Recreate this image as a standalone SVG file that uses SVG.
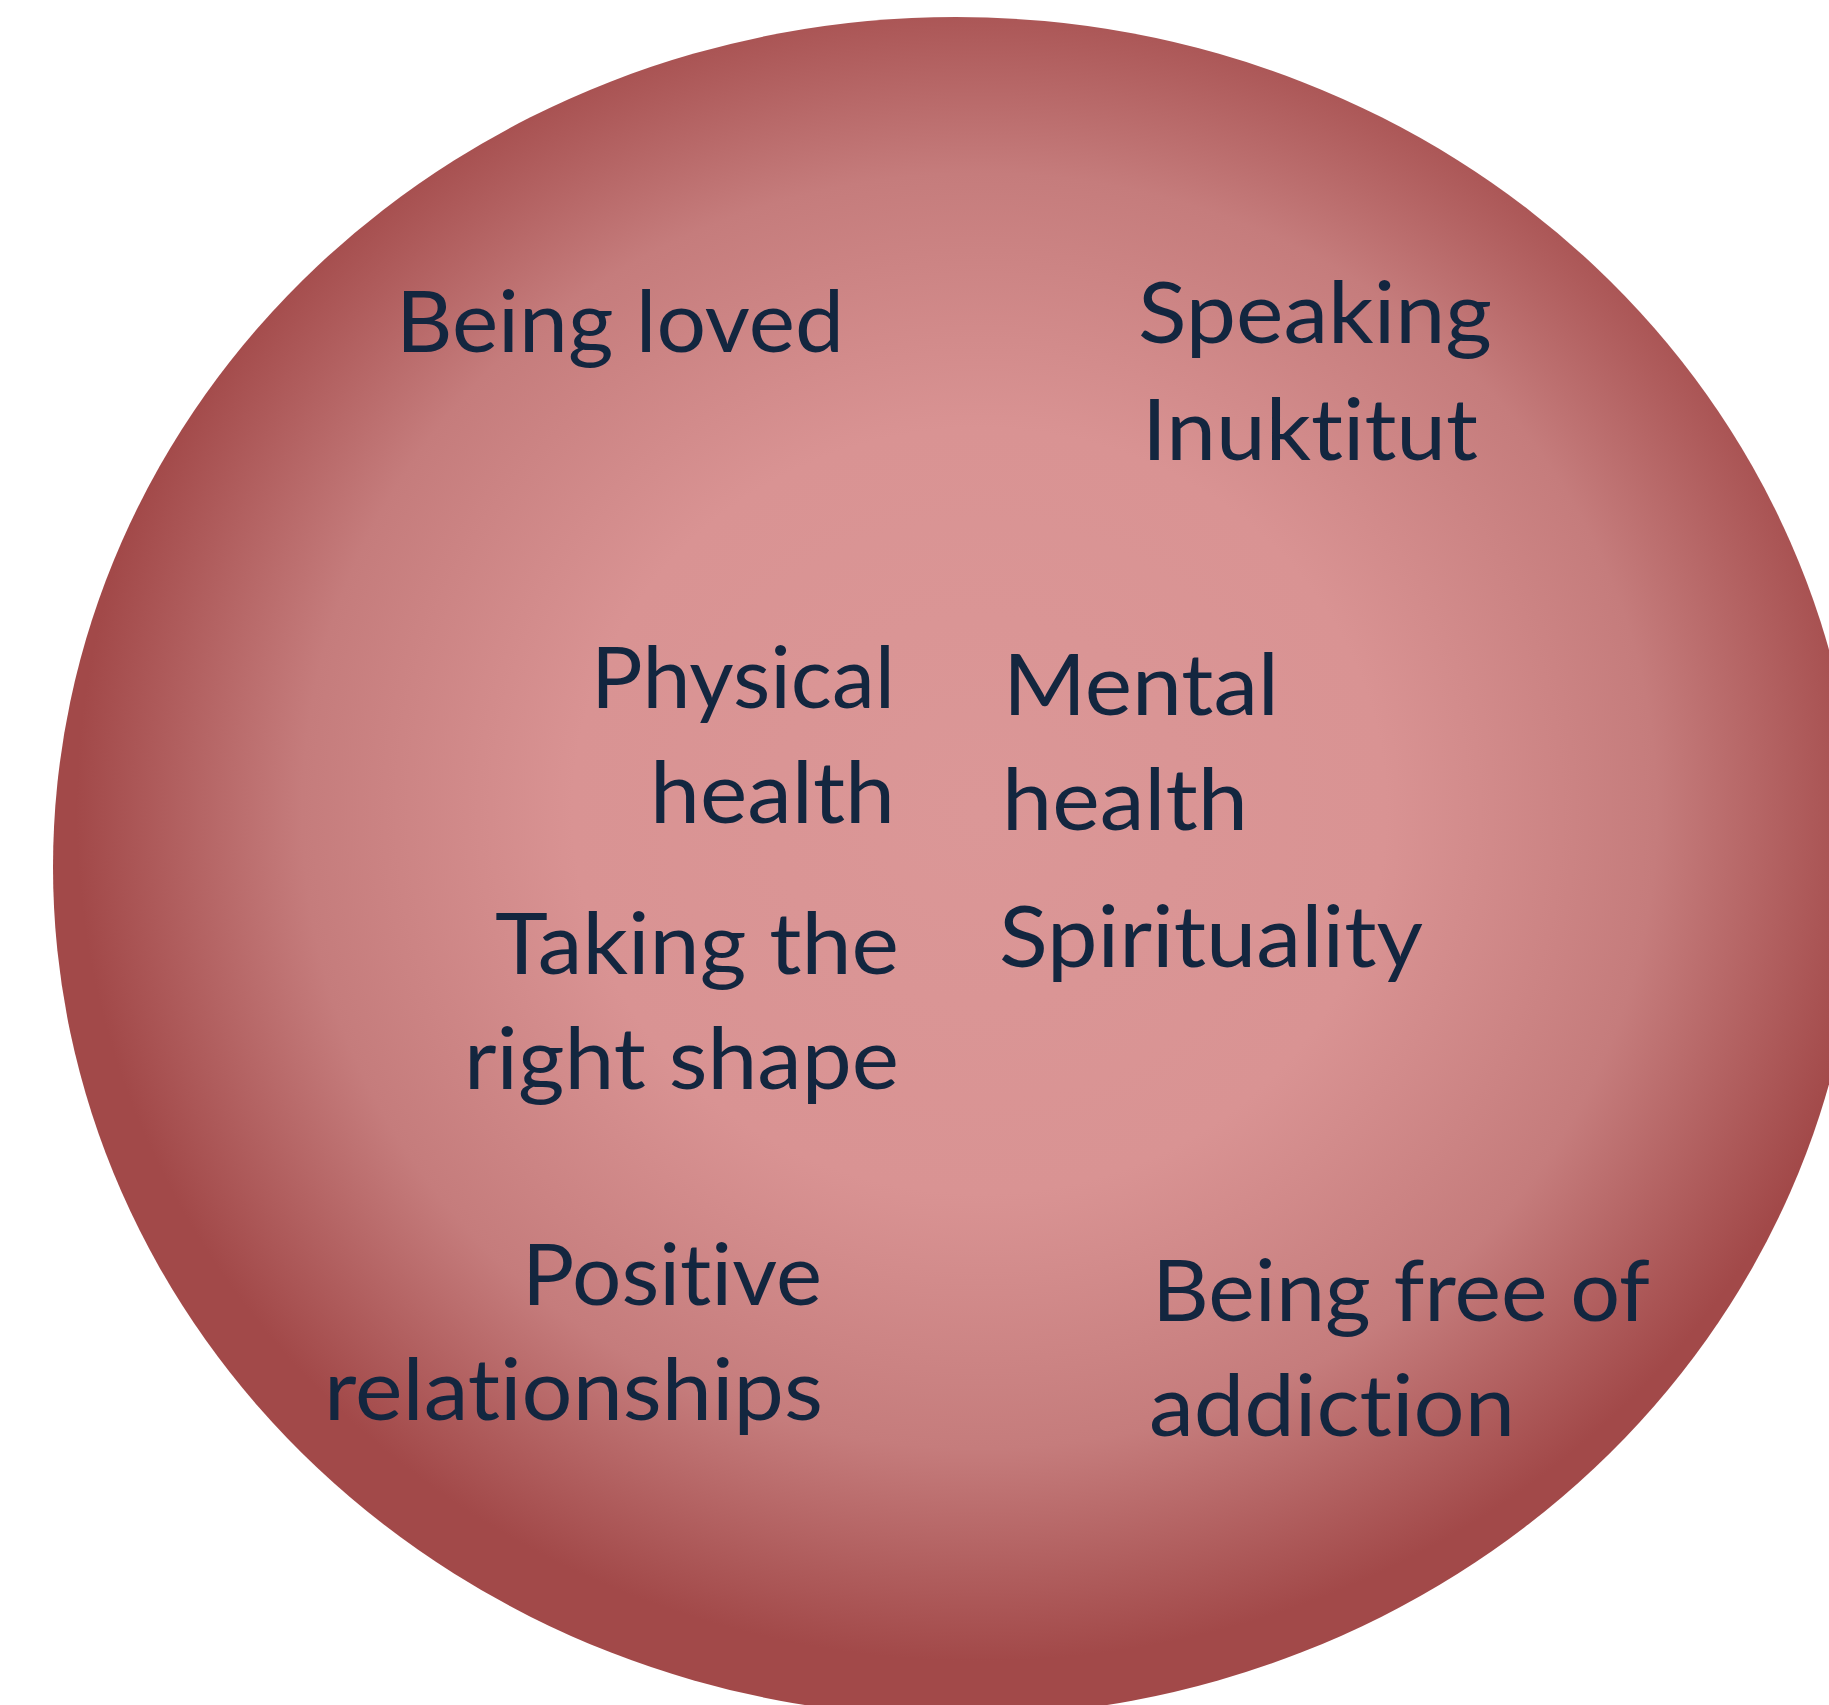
<svg xmlns="http://www.w3.org/2000/svg" width="1829" height="1705" viewBox="0 0 1829 1705">
  <defs>
    <radialGradient id="bg" cx="0.513" cy="0.467" r="0.5" gradientUnits="objectBoundingBox">
      <stop offset="0" stop-color="#DB9797"/>
      <stop offset="0.45" stop-color="#D99393"/>
      <stop offset="0.75" stop-color="#C57C7C"/>
      <stop offset="1" stop-color="#A24949"/>
    </radialGradient>
  </defs>
  <style>
    .lbl { font-family: Lato, "Open Sans", "Liberation Sans", sans-serif; font-size: 86px; fill: #13263F; font-variant-ligatures: none; font-feature-settings: "liga" 0, "clig" 0; }
  </style>
  <rect width="1829" height="1705" fill="#FFFFFF"/>
  <g id="circle">
    <ellipse cx="956" cy="867" rx="903" ry="850" fill="url(#bg)"/>
  </g>
  <g id="connectors"></g>
  <g id="node-being-loved">
    <text class="lbl" x="396" y="352" textLength="448" lengthAdjust="spacingAndGlyphs">Being loved</text>
  </g>
  <g id="node-speaking-inuktitut">
    <text class="lbl" x="1138" y="343" textLength="354" lengthAdjust="spacingAndGlyphs">Speaking</text>
    <text class="lbl" x="1142" y="460" textLength="336" lengthAdjust="spacingAndGlyphs">Inuktitut</text>
  </g>
  <g id="node-physical-health">
    <text class="lbl" x="591" y="708" textLength="304" lengthAdjust="spacingAndGlyphs">Physical</text>
    <text class="lbl" x="650" y="823" textLength="245" lengthAdjust="spacingAndGlyphs">health</text>
  </g>
  <g id="node-mental-health">
    <text class="lbl" x="1003" y="715" textLength="276" lengthAdjust="spacingAndGlyphs">Mental</text>
    <text class="lbl" x="1002" y="830" textLength="246" lengthAdjust="spacingAndGlyphs">health</text>
  </g>
  <g id="node-spirituality">
    <text class="lbl" x="999" y="967" textLength="424" lengthAdjust="spacingAndGlyphs">Spirituality</text>
  </g>
  <g id="node-taking-right-shape">
    <text class="lbl" x="495" y="974" textLength="404" lengthAdjust="spacingAndGlyphs">Taking the</text>
    <text class="lbl" x="464" y="1089" textLength="435" lengthAdjust="spacingAndGlyphs">right shape</text>
  </g>
  <g id="node-positive-relationships">
    <text class="lbl" x="522" y="1305" textLength="300" lengthAdjust="spacingAndGlyphs">Positive</text>
    <text class="lbl" x="324" y="1420" textLength="499" lengthAdjust="spacingAndGlyphs">relationships</text>
  </g>
  <g id="node-free-of-addiction">
    <text class="lbl" x="1152" y="1321" textLength="498" lengthAdjust="spacingAndGlyphs">Being free of</text>
    <text class="lbl" x="1149" y="1436" textLength="366" lengthAdjust="spacingAndGlyphs">addiction</text>
  </g>
</svg>
